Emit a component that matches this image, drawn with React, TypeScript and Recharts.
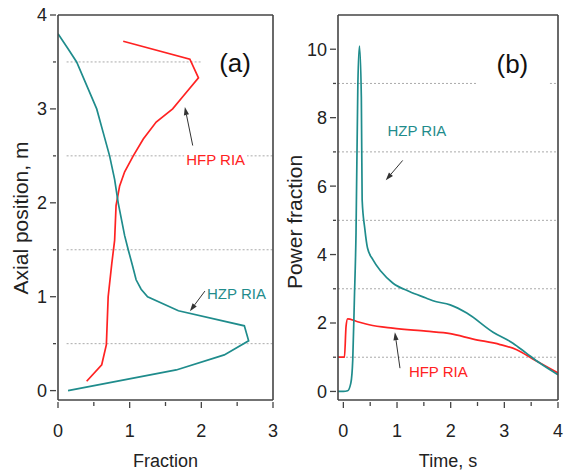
import React from 'react';
import { LineChart, Line, XAxis, YAxis, ReferenceLine, ReferenceDot, Label } from 'recharts';

const TEAL = '#1f8c8c';
const RED = '#ff2222';
const AXIS = '#444';
const TEXT = '#222';
const FONT = "'Liberation Sans', Arial, sans-serif";

// panel (a): axial profiles, listed from top of core to bottom
const hzpAxialPos = [3.8, 3.64, 3.5, 3.25, 3.0, 2.75, 2.5, 2.25, 2.0, 1.65, 1.5, 1.33, 1.18, 1.08, 1.0, 0.85, 0.69, 0.53, 0.38, 0.22, 0.0];
const hzpAxialFrac = [0.0, 0.14, 0.26, 0.4, 0.54, 0.63, 0.72, 0.79, 0.84, 0.93, 0.98, 1.04, 1.09, 1.16, 1.25, 1.68, 2.6, 2.66, 2.32, 1.65, 0.14];
const hfpAxialPos = [3.72, 3.53, 3.33, 3.13, 3.0, 2.86, 2.68, 2.5, 2.33, 2.18, 1.97, 1.6, 1.35, 1.0, 0.49, 0.275, 0.1];
const hfpAxialFrac = [0.91, 1.84, 1.96, 1.74, 1.6, 1.37, 1.19, 1.05, 0.93, 0.86, 0.81, 0.79, 0.75, 0.7, 0.675, 0.61, 0.4];

// panel (b): power vs time
const hzpTime = [-0.1, 0.0, 0.08, 0.14, 0.175, 0.205, 0.236, 0.27, 0.3, 0.335, 0.35, 0.4, 0.45, 0.55, 0.7, 0.92, 1.23, 1.54, 1.67, 1.99, 2.3, 2.79, 3.16, 3.41, 3.66, 4.0];
const hzpPower = [0, 0, 0.02, 0.25, 0.93, 2.68, 4.64, 8.97, 10.09, 8.6, 5.6, 4.75, 4.19, 3.85, 3.51, 3.17, 2.92, 2.73, 2.65, 2.53, 2.29, 1.73, 1.41, 1.12, 0.83, 0.49];
const hfpTime = [-0.1, 0.02, 0.05, 0.08, 0.24, 0.48, 0.92, 1.54, 1.99, 2.42, 2.92, 3.23, 3.53, 4.0];
const hfpPower = [1.0, 1.0, 1.9, 2.12, 2.05, 1.95, 1.85, 1.76, 1.69, 1.53, 1.37, 1.22, 0.95, 0.54];

const fracTicks = [0, 0.5, 1, 1.5, 2, 2.5, 3];
const posTicks = [0, 0.5, 1, 1.5, 2, 2.5, 3, 3.5, 4];
const timeTicks = [0, 0.5, 1, 1.5, 2, 2.5, 3, 3.5, 4];
const powerTicks = [0, 1, 2, 3, 4, 5, 6, 7, 8, 9, 10];

const hzpA = hzpAxialPos.map((y, i) => ({ x: hzpAxialFrac[i], y }));
const hfpA = hfpAxialPos.map((y, i) => ({ x: hfpAxialFrac[i], y }));
const hzpB = hzpTime.map((t, i) => ({ t, p: hzpPower[i] }));
const hfpB = hfpTime.map((t, i) => ({ t, p: hfpPower[i] }));

const isMajor = (v: number, step: number) => Math.abs(v / step - Math.round(v / step)) < 1e-6;

const bottomTick = (step: number) => (props: any) => {
  const { x, y, payload } = props;
  const major = isMajor(payload.value, step);
  return (
    <g>
      <line x1={x} y1={y} x2={x} y2={y + (major ? 6 : 4)} stroke={AXIS} strokeWidth={1.3} />
      {major && (
        <text x={x} y={y + 35} textAnchor="middle" fontSize={18} fill={TEXT} fontFamily={FONT}>
          {payload.value}
        </text>
      )}
    </g>
  );
};

const topTick = (step: number) => (props: any) => {
  const { x, y, payload } = props;
  const major = isMajor(payload.value, step);
  return <line x1={x} y1={y} x2={x} y2={y - (major ? 6 : 4)} stroke={AXIS} strokeWidth={1.3} />;
};

const leftTick = (step: number) => (props: any) => {
  const { x, y, payload } = props;
  const major = isMajor(payload.value, step);
  return (
    <g>
      <line x1={x} y1={y} x2={x - (major ? 6 : 3)} y2={y} stroke={AXIS} strokeWidth={1.3} />
      {major && (
        <text x={x - 9} y={y} dy="0.36em" textAnchor="end" fontSize={18} fill={TEXT} fontFamily={FONT}>
          {payload.value}
        </text>
      )}
    </g>
  );
};

const Arrow = (props: any) => {
  const { x1, y1, x2, y2 } = props;
  const ang = Math.atan2(y2 - y1, x2 - x1);
  const len = 8;
  const half = 2.6;
  const bx = x2 - len * Math.cos(ang);
  const by = y2 - len * Math.sin(ang);
  const px = -Math.sin(ang) * half;
  const py = Math.cos(ang) * half;
  return (
    <g>
      <line x1={x1} y1={y1} x2={bx} y2={by} stroke="#333" strokeWidth={1} />
      <polygon points={`${x2},${y2} ${bx + px},${by + py} ${bx - px},${by - py}`} fill="#333" />
    </g>
  );
};

const note = (text: string, color: string, size: number, bg = false) => (props: any) => {
  const { cx, cy } = props;
  const w = text.length * size * 0.56;
  return (
    <g>
      {bg && <rect x={cx - w / 2 - 2} y={cy - size * 0.55} width={w + 4} height={size * 1.1} fill="#fff" />}
      <text x={cx} y={cy} dy="0.36em" textAnchor="middle" fontSize={size} fill={color} fontFamily={FONT}>
        {text}
      </text>
    </g>
  );
};

const xTitle = (text: string) => (props: any) => {
  const vb = props.viewBox;
  return (
    <text x={vb.x + vb.width / 2} y={vb.y + 67} textAnchor="middle" fontSize={18} fill={TEXT} fontFamily={FONT}>
      {text}
    </text>
  );
};

const yTitle = (text: string, x: number, y: number) => () => (
  <text x={x} y={y} transform={`rotate(-90 ${x} ${y})`} dy="0.36em" textAnchor="middle" fontSize={21} fill={TEXT} fontFamily={FONT}>
    {text}
  </text>
);

const axisLine = { stroke: AXIS, strokeWidth: 1.6 };
const grid = { stroke: '#aaa', strokeDasharray: '2 2', strokeWidth: 1 };

const PanelA = () => (
  <LineChart width={290} height={472} margin={{ top: 10, right: 12, bottom: 22, left: 8 }}>
    <XAxis dataKey="x" type="number" domain={[0, 3]} ticks={fracTicks} interval={0} allowDataOverflow
      height={50} tickSize={0} tickLine={false} tick={bottomTick(1)} axisLine={axisLine}>
      <Label content={xTitle('Fraction')} />
    </XAxis>
    <XAxis xAxisId="top" orientation="top" type="number" domain={[0, 3]} ticks={fracTicks} interval={0}
      height={5} tickSize={0} tickLine={false} tick={topTick(1)} axisLine={axisLine} />
    <YAxis type="number" domain={[-0.1, 4]} ticks={posTicks} interval={0} allowDataOverflow
      width={50} tickSize={0} tickLine={false} tick={leftTick(1)} axisLine={axisLine}>
      <Label content={yTitle('Axial position, m', 20, 218)} />
    </YAxis>
    <YAxis yAxisId="right" orientation="right" type="number" domain={[-0.1, 4]} width={5}
      tick={false} tickLine={false} axisLine={axisLine} />
    <ReferenceLine segment={[{ x: 0.12, y: 0.5 }, { x: 3, y: 0.5 }]} {...grid} />
    <ReferenceLine segment={[{ x: 0.12, y: 1.5 }, { x: 3, y: 1.5 }]} {...grid} />
    <ReferenceLine segment={[{ x: 0.12, y: 2.5 }, { x: 3, y: 2.5 }]} {...grid} />
    <ReferenceLine segment={[{ x: 0.12, y: 3.5 }, { x: 2.0, y: 3.5 }]} {...grid} />
    <Line data={hfpA} dataKey="y" type="linear" stroke={RED} strokeWidth={1.7} dot={false} isAnimationActive={false} />
    <Line data={hzpA} dataKey="y" type="linear" stroke={TEAL} strokeWidth={1.7} dot={false} isAnimationActive={false} />
    <ReferenceLine segment={[{ x: 1.88, y: 2.61 }, { x: 1.77, y: 3.02 }]} shape={Arrow} />
    <ReferenceLine segment={[{ x: 2.05, y: 1.06 }, { x: 1.84, y: 0.845 }]} shape={Arrow} />
    <ReferenceDot x={2.2} y={2.46} r={1} shape={note('HFP RIA', RED, 15, true)} />
    <ReferenceDot x={2.49} y={1.03} r={1} shape={note('HZP RIA', TEAL, 15)} />
    <ReferenceDot x={2.47} y={3.49} r={1} shape={note('(a)', '#111', 26)} />
  </LineChart>
);

const PanelB = () => (
  <LineChart width={282} height={472} margin={{ top: 10, right: 1, bottom: 22, left: 6 }}>
    <XAxis dataKey="t" type="number" domain={[-0.1, 4]} ticks={timeTicks} interval={0} allowDataOverflow
      height={50} tickSize={0} tickLine={false} tick={bottomTick(1)} axisLine={axisLine}>
      <Label content={xTitle('Time, s')} />
    </XAxis>
    <XAxis xAxisId="top" orientation="top" type="number" domain={[-0.1, 4]} ticks={timeTicks} interval={0}
      height={5} tickSize={0} tickLine={false} tick={topTick(1)} axisLine={axisLine} />
    <YAxis type="number" domain={[-0.25, 11]} ticks={powerTicks} interval={0} allowDataOverflow
      width={50} tickSize={0} tickLine={false} tick={leftTick(2)} axisLine={axisLine}>
      <Label content={yTitle('Power fraction', 12, 222)} />
    </YAxis>
    <YAxis yAxisId="right" orientation="right" type="number" domain={[-0.25, 11]} width={5}
      tick={false} tickLine={false} axisLine={axisLine} />
    <ReferenceLine segment={[{ x: -0.1, y: 1 }, { x: 4, y: 1 }]} {...grid} />
    <ReferenceLine segment={[{ x: -0.1, y: 3 }, { x: 4, y: 3 }]} {...grid} />
    <ReferenceLine segment={[{ x: -0.1, y: 5 }, { x: 4, y: 5 }]} {...grid} />
    <ReferenceLine segment={[{ x: -0.1, y: 7 }, { x: 4, y: 7 }]} {...grid} />
    <ReferenceLine segment={[{ x: -0.1, y: 9 }, { x: 2.48, y: 9 }]} {...grid} />
    <ReferenceLine segment={[{ x: 3.85, y: 9 }, { x: 4, y: 9 }]} {...grid} />
    <Line data={hfpB} dataKey="p" type="monotone" stroke={RED} strokeWidth={1.7} dot={false} isAnimationActive={false} />
    <Line data={hzpB} dataKey="p" type="monotone" stroke={TEAL} strokeWidth={1.7} dot={false} isAnimationActive={false} />
    <ReferenceLine segment={[{ x: 1.105, y: 6.75 }, { x: 0.79, y: 6.17 }]} shape={Arrow} />
    <ReferenceLine segment={[{ x: 1.055, y: 0.68 }, { x: 0.96, y: 1.73 }]} shape={Arrow} />
    <ReferenceDot x={1.37} y={7.63} r={1} shape={note('HZP RIA', TEAL, 15)} />
    <ReferenceDot x={1.77} y={0.585} r={1} shape={note('HFP RIA', RED, 15)} />
    <ReferenceDot x={3.15} y={9.58} r={1} shape={note('(b)', '#111', 26)} />
  </LineChart>
);

export default function App() {
  return (
    <div style={{ position: 'absolute', left: 0, top: 0, width: 564, height: 472, background: '#fff' }}>
      <div style={{ position: 'absolute', left: 0, top: 0 }}>
        <PanelA />
      </div>
      <div style={{ position: 'absolute', left: 282, top: 0 }}>
        <PanelB />
      </div>
    </div>
  );
}
